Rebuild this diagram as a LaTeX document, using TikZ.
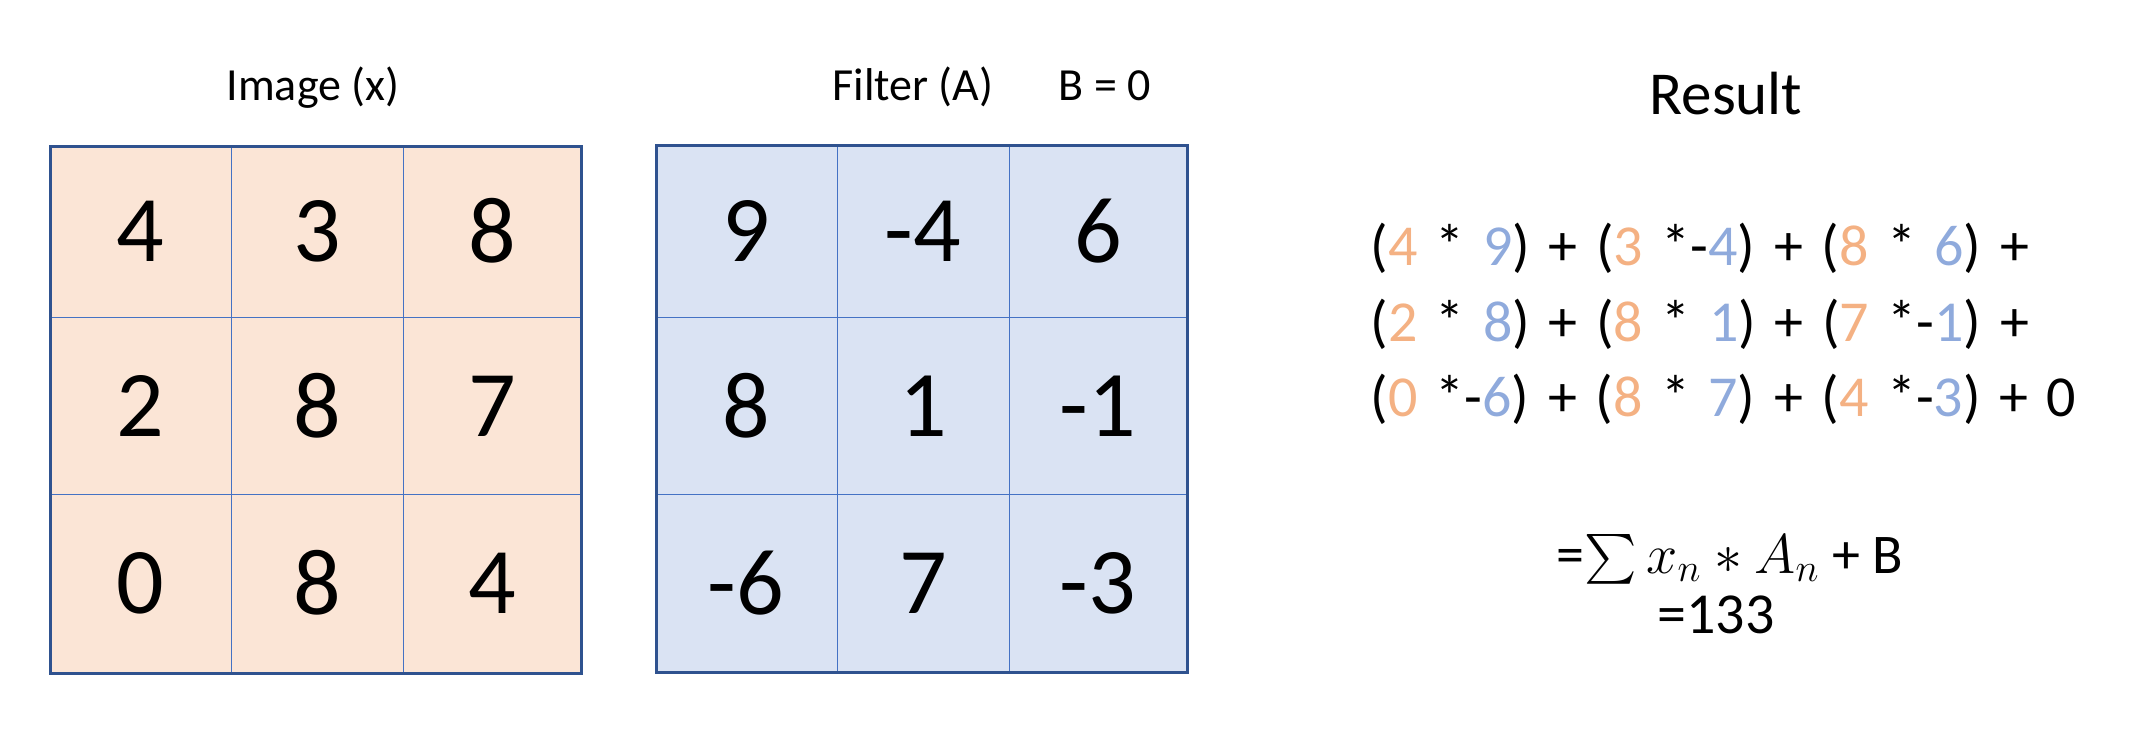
\RequirePackage{fix-cm}
\documentclass[tikz,border=0pt]{standalone}
\usepackage{exscale}
\usepackage{amsmath}
\usepackage{fontspec}
\setmainfont{Carlito}
\usepackage{xcolor}
\usepackage{tikz}
\definecolor{imgfill}{HTML}{FBE5D6}
\definecolor{filtfill}{HTML}{DAE3F3}
\definecolor{gridedge}{HTML}{2F528F}
\definecolor{gridline}{HTML}{4472C4}
\definecolor{imgnum}{HTML}{F4B183}
\definecolor{filtnum}{HTML}{8FAADC}
\newcommand{\xval}[1]{\textcolor{imgnum}{#1}}
\newcommand{\aval}[1]{\textcolor{filtnum}{#1}}
\newcommand{\cellsize}{\fontsize{47}{50}\selectfont}
\newcommand{\capsize}{\fontsize{23}{26}\selectfont}
\newcommand{\eqsize}{\fontsize{29}{32}\selectfont\spaceskip=0.32em\relax}
\tikzset{
  cell/.style={font=\cellsize, inner sep=0.75pt},
  caption/.style={font=\capsize, anchor=base, inner sep=0pt},
  eqline/.style={font=\eqsize, anchor=base west, inner sep=0pt}
}

\begin{document}
\begin{tikzpicture}[x=0.5pt,y=0.5pt,yscale=-1,xscale=1]
\useasboundingbox (0,0) rectangle (2142,750);

%Shape: Rectangle [image grid]
\fill [imgfill] (50,146) -- (581,146) -- (581,673) -- (50,673) -- cycle ;
\draw [gridline, line width=0.5pt] (231,146) -- (231,673) ;
\draw [gridline, line width=0.5pt] (403,146) -- (403,673) ;
\draw [gridline, line width=0.5pt] (50,317) -- (581,317) ;
\draw [gridline, line width=0.5pt] (50,494) -- (581,494) ;
\draw [gridedge, line width=1.5pt] (50,146) -- (581,146) -- (581,673) -- (50,673) -- cycle ;
%Shape: Rectangle [filter grid]
\fill [filtfill] (656,145) -- (1187,145) -- (1187,672) -- (656,672) -- cycle ;
\draw [gridline, line width=0.5pt] (837,145) -- (837,672) ;
\draw [gridline, line width=0.5pt] (1009,145) -- (1009,672) ;
\draw [gridline, line width=0.5pt] (656,317) -- (1187,317) ;
\draw [gridline, line width=0.5pt] (656,494) -- (1187,494) ;
\draw [gridedge, line width=1.5pt] (656,145) -- (1187,145) -- (1187,672) -- (656,672) -- cycle ;

% Text Node
\node [caption] (imgcap) at (313,100) {Image (x)};
% Text Node
\node [caption] (filtcap) at (913,100) {Filter (A)};
% Text Node
\node [caption] (biascap) at (1105,100) {B = 0};

% Text Node
\node [cell] (x11) at (140,231) {4};
\node [cell] (x12) at (317,231) {3};
\node [cell] (x13) at (492,231) {8};
\node [cell] (x21) at (140,406) {2};
\node [cell] (x22) at (317,406) {8};
\node [cell] (x23) at (492,406) {7};
\node [cell] (x31) at (140,583) {0};
\node [cell] (x32) at (317,583) {8};
\node [cell] (x33) at (492,583) {4};
% Text Node
\node [cell] (a11) at (746,231) {9};
\node [cell] (a12) at (923,231) {-4};
\node [cell] (a13) at (1098,231) {6};
\node [cell] (a21) at (746,406) {8};
\node [cell] (a22) at (923,406) {1};
\node [cell] (a23) at (1098,406) {-1};
\node [cell] (a31) at (746,583) {-6};
\node [cell] (a32) at (923,583) {7};
\node [cell] (a33) at (1098,583) {-3};

% Text Node
\node [caption, font=\fontsize{30.5}{34}\selectfont] (result) at (1726,114) {Result};
% Text Node
\node [eqline] (row1) at (1370,265) {(\xval{4} * \aval{9}) + (\xval{3} *-\aval{4}) + (\xval{8} * \aval{6}) +};
\node [eqline] (row2) at (1370,341) {(\xval{2} * \aval{8}) + (\xval{8} * \aval{1}) + (\xval{7} *-\aval{1}) +};
\node [eqline] (row3) at (1370,416) {(\xval{0} *-\aval{6}) + (\xval{8} * \aval{7}) + (\xval{4} *-\aval{3}) + 0};
% Text Node
\node [caption, font=\fontsize{28}{32}\selectfont] (sumline) at (1730,573) {=$\textstyle\sum x_n \ast A_n$ + B};
% Text Node
\node [caption, font=\fontsize{29}{32}\selectfont] (total) at (1716,633) {=133};

\end{tikzpicture}
\end{document}
